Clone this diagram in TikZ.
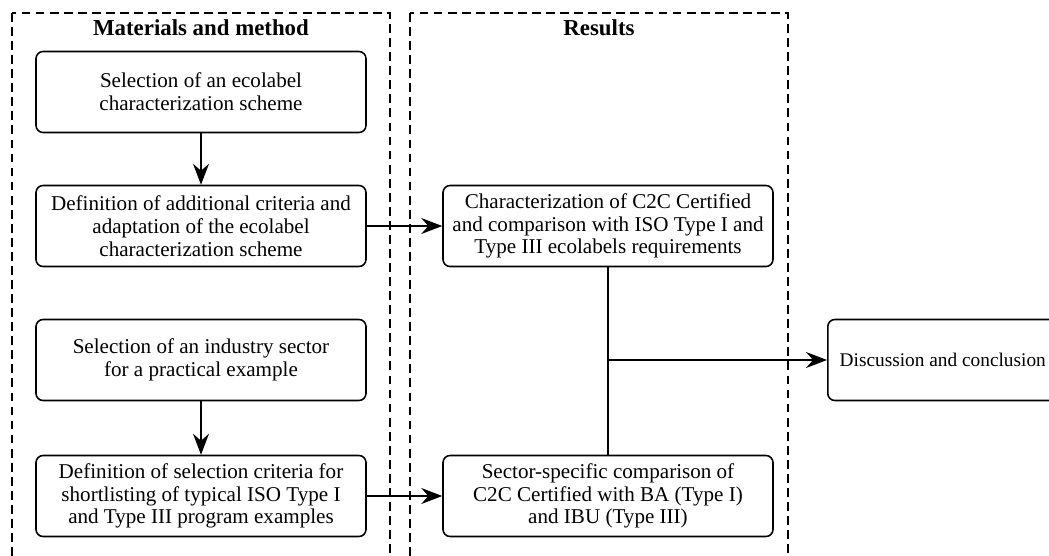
\documentclass[tikz,border=0pt]{standalone}
\usepackage{fontspec}
\setmainfont{Liberation Serif}
\usetikzlibrary{arrows.meta,positioning}
\tikzset{
  >={Stealth[length=4.2mm,width=3.2mm,inset=1.4mm]},
  stage/.style={draw,rounded corners=4pt,line width=0.9pt,minimum width=6.6cm,
    minimum height=1.62cm,align=center,font=\fontsize{12}{13}\selectfont,inner sep=2pt},
  frame/.style={draw,line width=0.8pt,dash pattern=on 5pt off 3pt},
  heading/.style={font=\fontsize{13}{15}\selectfont\bfseries},
  flow/.style={->,line width=0.9pt},
}

\begin{document}
\begin{tikzpicture}[x=0.02cm,y=-0.02cm]
  \useasboundingbox (0,0) rectangle (1049,555);
  % dashed frames, running past the lower edge
  \draw[frame] (12,13) rectangle (390,600);
  \draw[frame] (410,13) rectangle (788,600);
  \node[heading] (mm-title) at (201,28) {Materials and method};
  \node[heading] (res-title) at (599,28) {Results};

  % materials and method
  \node[stage] (sel-scheme) at (201,92) {Selection of an ecolabel\\characterization scheme};
  \node[stage] (def-criteria) at (201,226) {Definition of additional criteria and\\adaptation of the ecolabel\\characterization scheme};
  \node[stage] (sel-sector) at (201,360) {Selection of an industry sector\\for a practical example};
  \node[stage] (def-shortlist) at (201,496) {Definition of selection criteria for\\shortlisting of typical ISO Type I\\and Type III program examples};

  % results
  \node[stage] (char-c2c) at (608,226) {Characterization of C2C Certified\\and comparison with ISO Type I and\\Type III ecolabels requirements};
  \node[stage] (sector-cmp) at (608,496) {Sector-specific comparison of\\C2C Certified with BA (Type I)\\and IBU (Type III)};

  \node[stage,minimum width=4.6cm,anchor=west,font=\fontsize{11}{13}\selectfont] (discussion) at (827,360) {Discussion and conclusion};

  \draw[flow] (sel-scheme) -- (def-criteria);
  \draw[flow] (sel-sector) -- (def-shortlist);
  \draw[flow] (def-criteria) -- (char-c2c);
  \draw[flow] (def-shortlist) -- (sector-cmp);
  \draw[line width=0.9pt] (char-c2c) -- (sector-cmp);
  \draw[flow] (char-c2c.south |- discussion.west) -- (discussion.west);
\end{tikzpicture}
\end{document}
